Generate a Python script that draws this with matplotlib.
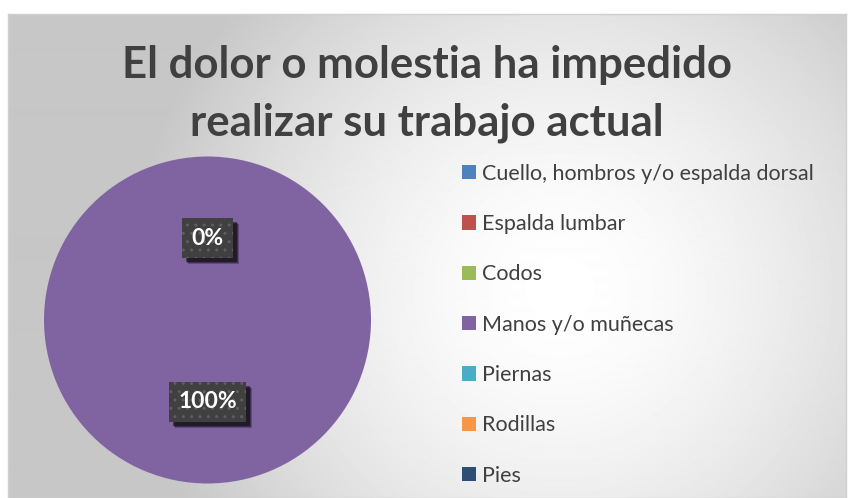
import numpy as np
import matplotlib.pyplot as plt
from matplotlib.patches import Rectangle
from matplotlib.transforms import IdentityTransform

W, H = 851, 498
DPI = 100

title = 'El dolor o molestia ha impedido\nrealizar su trabajo actual'
categories = ['Cuello, hombros y/o espalda dorsal', 'Espalda lumbar', 'Codos',
              'Manos y/o muñecas', 'Piernas', 'Rodillas', 'Pies']
values = [0, 0, 0, 1, 0, 0, 0]
colors = ['#4f81bd', '#c0504d', '#9bbb59', '#8064a2', '#4bacc6', '#f79646', '#2c4d75']

plt.rcParams['font.family'] = ['Lato', 'DejaVu Sans']

fig = plt.figure(figsize=(W / DPI, H / DPI), dpi=DPI, facecolor='white')

# chart area with radial gradient
x0, y0, x1, y1 = 8, 14, 846, 498
bg = fig.add_axes([x0 / W, 1 - y1 / H, (x1 - x0) / W, (y1 - y0) / H])
xx, yy = np.meshgrid(np.arange(x0, x1), np.arange(y0, y1))
d = np.hypot(xx - 560, yy - 290) / 430
t = np.clip(d, 0, 1) ** 1.6
grey = 1 - t * (1 - 0.78)
bg.imshow(grey, cmap='gray', vmin=0, vmax=1, aspect='auto', interpolation='bilinear')
bg.set_xticks([])
bg.set_yticks([])
for s in bg.spines.values():
    s.set_color('#d0d0d0')
    s.set_linewidth(1)

# pie
cx, cy, r = 207.5, 320, 163.5
ax = fig.add_axes([(cx - r) / W, (H - cy - r) / H, 2 * r / W, 2 * r / H])
wedges, texts, autotexts = ax.pie(values, colors=colors, startangle=90, counterclock=False,
                                  autopct='%1.0f%%', pctdistance=0.5,
                                  textprops=dict(color='white', fontsize=16.5, fontweight='bold'))
ax.set_xlim(-1, 1)
ax.set_ylim(-1, 1)
ax.set_aspect('auto')
ax.set_autoscale_on(False)

for t_ in autotexts:
    t_.set_bbox(dict(boxstyle='square,pad=0.42', fc='#404040', ec='#5e5e5e', lw=0, hatch='..'))
    t_.set_zorder(5)

# soft dark shadow down and to the right of each label box
# (the zero slices share one spot, so one shadow per spot)
fig.canvas.draw()
seen = set()
for t_ in autotexts:
    bb = t_.get_bbox_patch().get_window_extent()
    key = (round(bb.x0), round(bb.y0))
    if key in seen:
        continue
    seen.add(key)
    for k, a in [(6, 0.25), (5, 0.35), (4, 0.45)]:
        ax.add_artist(Rectangle((bb.x0 + k, bb.y0 - k), bb.width, bb.height,
                                transform=IdentityTransform(), fc='black', ec='none',
                                alpha=a, zorder=4, clip_on=False))

fig.legend(wedges, categories, loc='upper left', bbox_to_anchor=(453 / W, 1 - 155 / H),
           frameon=False, fontsize=15.5, labelcolor='#404040', handlelength=0.65,
           handleheight=0.65, handletextpad=0.3, labelspacing=1.41, borderaxespad=0)

# title, one line at a time so each baseline sits where the reference has it
for line, base in zip(title.split('\n'), [78, 135]):
    fig.text(427 / W, 1 - base / H, line, ha='center', va='baseline', fontsize=31.5,
             fontweight='bold', color='#404040')

fig.savefig('out.png', dpi=DPI)
